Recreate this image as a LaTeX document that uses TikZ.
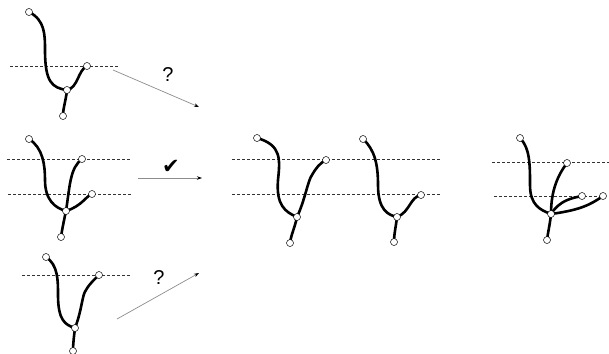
\documentclass[tikz,border=0pt]{standalone}
\usepackage{fontspec}
\setmainfont{Liberation Sans}
\newfontfamily\symfont{DejaVu Sans}
\usetikzlibrary{arrows.meta,backgrounds}
\begin{document}
\begin{tikzpicture}[x=1pt,y=-1pt,
  pt/.style={circle,draw=black,fill=white,line width=0.5pt,inner sep=0pt,minimum size=7pt},
  stroke/.style={line width=2.6pt,black},
  guide/.style={line width=0.6pt,black!80,dash pattern=on 3pt off 2pt},
  move/.style={line width=0.7pt,black!45,-{Stealth[length=5pt,width=3.5pt,black]}},
  lbl/.style={font=\fontsize{20}{24}\selectfont,inner sep=0pt}]
\useasboundingbox (0,0) rectangle (609,353);
% ---------- panel 1 ----------
\node[pt] (a1) at (29,12) {};
\node[pt] (r1) at (87,66) {};
\node[pt] (j1) at (67,90) {};
\node[pt] (b1) at (63,116) {};
\coordinate (g1s) at (10,66); \coordinate (g1e) at (118,66);
% ---------- panel 2 ----------
\node[pt] (a2) at (29,139) {};
\node[pt] (u2) at (82,159) {};
\node[pt] (r2) at (92,194) {};
\node[pt] (j2) at (66,211) {};
\node[pt] (b2) at (61,237) {};
\coordinate (g2s) at (7,159); \coordinate (g2e) at (130,159);
\coordinate (g3s) at (8,194); \coordinate (g3e) at (131,194);
% ---------- panel 3 ----------
\node[pt] (a3) at (46,257) {};
\node[pt] (r3) at (99,275) {};
\node[pt] (j3) at (75,328) {};
\node[pt] (b3) at (73,351) {};
\coordinate (g4s) at (22,275); \coordinate (g4e) at (130,275);
% ---------- panel 4 ----------
\node[pt] (a4) at (257,138) {};
\node[pt] (u4) at (326,160) {};
\node[pt] (j4) at (297,217) {};
\node[pt] (b4) at (290,243) {};
% ---------- panel 5 ----------
\node[pt] (a5) at (363,139) {};
\node[pt] (r5) at (421,195) {};
\node[pt] (j5) at (397,217) {};
\node[pt] (b5) at (394,242) {};
\coordinate (g5s) at (232,159); \coordinate (g5e) at (440,159);
\coordinate (g6s) at (232,194); \coordinate (g6e) at (440,194);
% ---------- panel 6 ----------
\node[pt] (a6) at (520,138) {};
\node[pt] (u6) at (567,163) {};
\node[pt] (s6) at (582,196) {};
\node[pt] (t6) at (603,196) {};
\node[pt] (j6) at (551,214) {};
\node[pt] (b6) at (547,240) {};
\coordinate (g7s) at (492,162); \coordinate (g7e) at (609,162);
\coordinate (g8s) at (494,196); \coordinate (g8e) at (603,196);
% ---------- arrows and labels ----------
\coordinate (m1s) at (113,70); \coordinate (m1e) at (199,107);
\coordinate (m2s) at (138,178); \coordinate (m2e) at (202,178);
\coordinate (m3s) at (117,319); \coordinate (m3e) at (199,273);
\draw[move] (m1s) -- (m1e);
\draw[move] (m2s) -- (m2e);
\draw[move] (m3s) -- (m3e);
\node[lbl] (q1) at (168,75) {?};
\node[lbl] (q3) at (159,278) {?};
\node[inner sep=0pt,font=\symfont\fontsize{21}{24}\selectfont] (ck) at (171,167) {✔};
\begin{scope}[on background layer]
\draw[guide] (g1s) -- (g1e);
\draw[guide] (g2s) -- (g2e);
\draw[guide] (g3s) -- (g3e);
\draw[guide] (g4s) -- (g4e);
\draw[guide] (g5s) -- (g5e);
\draw[guide] (g6s) -- (g6e);
\draw[guide] (g7s) -- (g7e);
\draw[guide] (g8s) -- (g8e);
% panel 1
\draw[stroke] (a1.center) .. controls (45,20) and (45,35) .. (45,50) .. controls (45,82) and (52,88) .. (j1.center);
\draw[stroke] (j1.center) .. controls (78,88) and (78,70) .. (r1.center);
\draw[stroke] (j1.center) .. controls (66,100) and (63,108) .. (b1.center);
% panel 2
\draw[stroke] (a2.center) .. controls (43,148) and (45,165) .. (45,180) .. controls (45,200) and (55,208) .. (j2.center);
\draw[stroke] (j2.center) .. controls (70,185) and (70,168) .. (u2.center);
\draw[stroke] (j2.center) .. controls (82,206) and (86,196) .. (r2.center);
\draw[stroke] (j2.center) .. controls (64,220) and (62,230) .. (b2.center);
% panel 3
\draw[stroke] (a3.center) .. controls (58,265) and (58,280) .. (58,295) .. controls (58,320) and (65,325) .. (j3.center);
\draw[stroke] (j3.center) .. controls (82,310) and (82,295) .. (86,290) .. controls (90,283) and (95,279) .. (r3.center);
\draw[stroke] (j3.center) .. controls (74,336) and (73,344) .. (b3.center);
% panel 4
\draw[stroke] (a4.center) .. controls (282,145) and (280,160) .. (278,180) .. controls (276,205) and (285,212) .. (j4.center);
\draw[stroke] (j4.center) .. controls (305,200) and (308,180) .. (312,175) .. controls (316,168) and (320,163) .. (u4.center);
\draw[stroke] (j4.center) .. controls (295,227) and (291,235) .. (b4.center);
% panel 5
\draw[stroke] (a5.center) .. controls (375,150) and (378,165) .. (378,185) .. controls (378,210) and (388,215) .. (j5.center);
\draw[stroke] (j5.center) .. controls (410,212) and (410,197) .. (r5.center);
\draw[stroke] (j5.center) .. controls (396,226) and (394,234) .. (b5.center);
% panel 6
\draw[stroke] (a6.center) .. controls (530,148) and (530,165) .. (530,185) .. controls (530,205) and (540,210) .. (j6.center);
\draw[stroke] (j6.center) .. controls (551,190) and (558,175) .. (u6.center);
\draw[stroke] (j6.center) .. controls (560,200) and (572,198) .. (s6.center);
\draw[stroke] (j6.center) .. controls (580,210) and (590,205) .. (t6.center);
\draw[stroke] (j6.center) .. controls (550,224) and (548,232) .. (b6.center);
\end{scope}
\end{tikzpicture}
\end{document}
